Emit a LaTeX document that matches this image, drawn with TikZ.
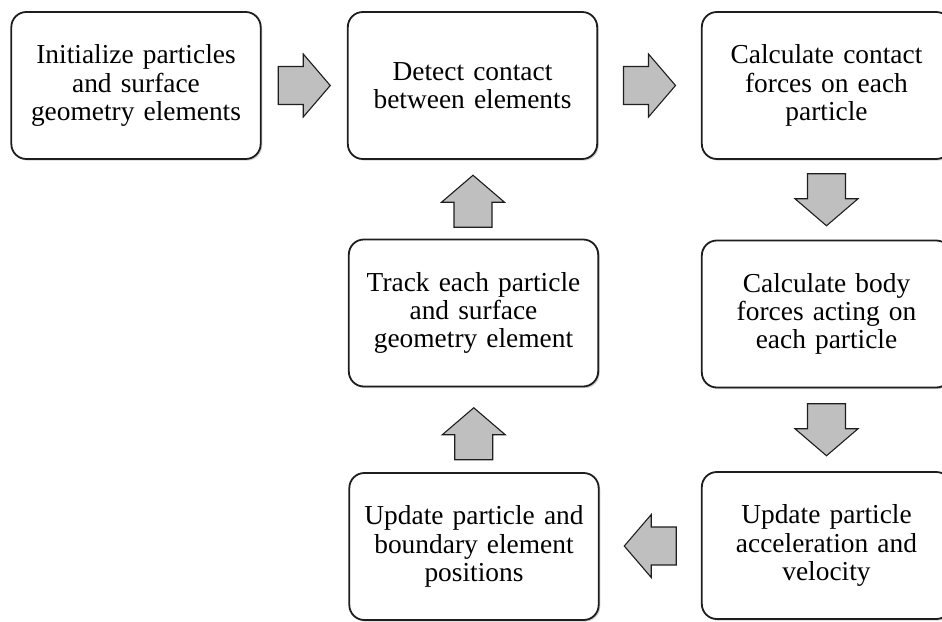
\documentclass[tikz,border=0pt]{standalone}
\usepackage{fontspec}
\setmainfont{Liberation Serif}
\usetikzlibrary{calc,shadows}
\definecolor{ink}{HTML}{1E1E1E}
\definecolor{arrowgray}{HTML}{BFBFBF}
\tikzset{
  stage/.style={
    draw=ink,
    line width=0.9pt,
    rounded corners=7.5pt,
    fill=white,
    minimum width=124pt,
    minimum height=73.5pt,
    text width=118pt,
    align=center,
    text=black,
    font=\fontsize{13.7}{14.2}\selectfont,
    drop shadow={shadow xshift=0.8pt, shadow yshift=-0.8pt, opacity=0.35}
  },
  blockarrow/.pic={
    \draw[draw=ink, line width=0.55pt, fill=arrowgray, line join=miter]
      (-26,-19) -- (-1,-19) -- (-1,-31.5) -- (26,0) -- (-1,31.5)
      -- (-1,19) -- (-26,19) -- cycle;
  }
}
\begin{document}
\begin{tikzpicture}[x=0.5pt, y=-0.5pt]
  \useasboundingbox (0,0) rectangle (942,621);
  \clip (0,0) rectangle (942,621);

  \node[stage] (init) at (136,85.5)
    {Initialize particles\\and surface\\geometry elements};
  \node[stage] (detect) at (472.5,85.5)
    {Detect contact\\between elements};
  \node[stage] (contact) at (826.5,85.5)
    {Calculate contact\\forces on each\\particle};
  \node[stage] (track) at (473.5,313)
    {Track each particle\\and surface\\geometry element};
  \node[stage] (body) at (826.5,314)
    {Calculate body\\forces acting on\\each particle};
  \node[stage] (update) at (474,546.5)
    {Update particle and\\boundary element\\positions};
  \node[stage] (accel) at (826.5,545.5)
    {Update particle\\acceleration and\\velocity};

  \pic at ($(init.east)!0.5!(detect.west)$) {blockarrow};
  \pic at ($(detect.east)!0.5!(contact.west)$) {blockarrow};
  \pic[rotate=-90] at ($(contact.south)!0.5!(body.north)$) {blockarrow};
  \pic[rotate=-90] at ($(body.south)!0.5!(accel.north)$) {blockarrow};
  \pic[rotate=180] at ($(accel.west)!0.5!(update.east)$) {blockarrow};
  \pic[rotate=90] at ([yshift=-2pt]$(update.north)!0.5!(track.south)$) {blockarrow};
  \pic[rotate=90] at ([yshift=-1pt]$(track.north)!0.5!(detect.south)$) {blockarrow};
\end{tikzpicture}
\end{document}
